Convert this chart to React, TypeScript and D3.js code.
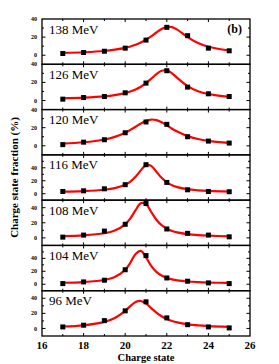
import React from 'react';
import * as d3 from 'd3';

// charge states measured
const charges = [17, 18, 19, 20, 21, 22, 23, 24, 25];
const energies = ['138 MeV', '126 MeV', '120 MeV', '116 MeV', '108 MeV', '104 MeV', '96 MeV'];

// measured fractions (%) per beam energy
const frac138 = [1.9, 3.0, 4.4, 7.8, 16.7, 30.8, 21.6, 7.8, 4.9];
const frac126 = [1.5, 3.3, 4.4, 8.5, 19.2, 32.9, 14.8, 7.4, 4.4];
const frac120 = [1.3, 4.0, 6.7, 14.4, 26.3, 23.7, 10.0, 5.2, 3.0];
const frac116 = [3.4, 4.4, 7.5, 13.9, 44.8, 17.4, 6.0, 3.4, 3.0];
const frac108 = [1.0, 3.7, 9.0, 18.0, 45.5, 11.8, 6.0, 3.7, 1.4];
const frac104 = [1.0, 3.6, 6.2, 22.4, 44.3, 9.7, 4.7, 2.1, 1.0];
const frac96 = [2.0, 4.3, 10.4, 23.3, 35.3, 14.0, 5.0, 2.0, 0.7];

// fitted curve
const fitGrid = [17, 18, 19, 19.5, 20, 20.25, 20.5, 20.75, 21, 21.25, 21.5, 21.75, 22, 22.25, 22.5, 23, 23.5, 24, 25];
const fit138 = [2.5, 3.3, 4.7, 6.1, 8.1, 9.6, 11.5, 14.0, 17.1, 20.8, 25.1, 29.0, 31.3, 31.0, 28.3, 20.0, 13.4, 9.3, 5.2];
const fit126 = [2.3, 3.1, 4.5, 5.9, 8.2, 9.9, 12.2, 15.2, 19.2, 24.0, 29.1, 32.8, 33.2, 30.0, 25.1, 15.9, 10.3, 7.2, 4.1];
const fit120 = [2.4, 3.9, 7.0, 9.9, 14.5, 17.6, 21.0, 24.6, 27.5, 29.0, 28.3, 25.9, 22.5, 18.9, 15.7, 10.7, 7.5, 5.5, 3.2];
const fit116 = [3.2, 4.0, 6.1, 8.6, 13.9, 18.8, 26.2, 36.0, 44.1, 43.0, 34.0, 24.5, 17.6, 13.1, 10.2, 6.9, 5.2, 4.2, 3.3];
const fit108 = [2.3, 3.3, 6.1, 9.7, 18.0, 25.9, 36.7, 45.9, 44.7, 34.4, 24.0, 16.8, 12.2, 9.2, 7.2, 4.9, 3.6, 2.9, 2.1];
const fit104 = [2.3, 3.4, 6.6, 11.1, 22.4, 33.4, 46.8, 51.6, 41.7, 28.5, 19.2, 13.4, 9.8, 7.5, 6.0, 4.2, 3.2, 2.6, 2.0];
const fit96 = [2.6, 4.2, 8.7, 13.8, 23.3, 29.6, 34.9, 36.4, 33.0, 27.0, 21.0, 16.1, 12.5, 9.9, 8.0, 5.5, 4.0, 3.1, 2.1];

// upper limit of each panel's y axis
const yTops = [40, 40, 40, 60, 50, 60, 50];
const yBottom = -10;
const yLabels = [0, 20, 40];
const xLabels = [16, 18, 20, 22, 24, 26];

const fractions = [frac138, frac126, frac120, frac116, frac108, frac104, frac96];
const fits = [fit138, fit126, fit120, fit116, fit108, fit104, fit96];

const panels = energies.map((label, i) => ({
  label,
  points: charges.map((c, j) => ({ x: c, y: fractions[i][j] })),
  fit: fitGrid.map((c, j) => ({ x: c, y: fits[i][j] })),
  yTop: yTops[i],
}));

const FONT = '"Liberation Serif", "Times New Roman", serif';

export default function App() {
  const width = 279;
  const height = 364;
  const margin = { top: 19, right: 29, bottom: 28, left: 42 };
  const innerW = width - margin.left - margin.right;
  const innerH = height - margin.top - margin.bottom;
  const panelH = innerH / panels.length;

  const x = d3.scaleLinear().domain([16, 26]).range([0, innerW]);
  const sq = 5;

  return (
    <svg
      width={width}
      height={height}
      style={{ position: 'absolute', left: 0, top: 0, background: '#fff' }}
      fontFamily={FONT}
    >
      <g transform={`translate(${margin.left},${margin.top})`}>
        {panels.map((p, i) => {
          const y = d3.scaleLinear().domain([yBottom, p.yTop]).range([panelH, 0]);
          const line = d3.line<{ x: number; y: number }>()
            .x(d => x(d.x))
            .y(d => y(d.y))
            .curve(d3.curveCatmullRom.alpha(0.5));
          const yTicks = d3.range(yBottom + 10, p.yTop, 10);
          return (
            <g key={p.label} transform={`translate(0,${i * panelH})`}>
              <rect x={0} y={0} width={innerW} height={panelH} fill="none" stroke="#000" strokeWidth={1.3} />
              {yTicks.map(t => {
                const len = t % 20 === 0 ? 3.5 : 2;
                return (
                  <g key={t}>
                    <line x1={0} x2={len} y1={y(t)} y2={y(t)} stroke="#000" strokeWidth={1} />
                    <line x1={innerW} x2={innerW - len} y1={y(t)} y2={y(t)} stroke="#000" strokeWidth={1} />
                  </g>
                );
              })}
              {yLabels.filter(t => t <= p.yTop).map(t => (
                <text key={t} x={-5} y={y(t)} dy="0.35em" textAnchor="end" fontSize={6} fontWeight="bold">
                  {t}
                </text>
              ))}
              {charges.map(c => {
                const len = c % 2 === 0 ? 3 : 2;
                return (
                  <g key={c}>
                    <line x1={x(c)} x2={x(c)} y1={0} y2={len} stroke="#000" strokeWidth={1} />
                    <line x1={x(c)} x2={x(c)} y1={panelH} y2={panelH - len} stroke="#000" strokeWidth={1} />
                  </g>
                );
              })}
              <path d={line(p.fit) || ''} fill="none" stroke="#ff0000" strokeWidth={2.2} />
              {p.points.map(d => (
                <rect key={d.x} x={x(d.x) - sq / 2} y={y(d.y) - sq / 2} width={sq} height={sq} fill="#000" />
              ))}
              <text x={7} y={14.5} fontSize={13}>{p.label}</text>
              {i === 0 && (
                <text x={innerW - 8} y={14} fontSize={12} fontWeight="bold" textAnchor="end">(b)</text>
              )}
            </g>
          );
        })}
        {xLabels.map(t => (
          <text key={t} x={x(t)} y={innerH + 12.5} textAnchor="middle" fontSize={11} fontWeight="bold">
            {t}
          </text>
        ))}
        <text x={innerW / 2} y={innerH + 24.5} textAnchor="middle" fontSize={10.5} fontWeight="bold">
          Charge state
        </text>
        <text
          transform={`translate(${-24},${innerH / 2}) rotate(-90)`}
          textAnchor="middle"
          fontSize={11}
          fontWeight="bold"
        >
          Charge state fraction (%)
        </text>
      </g>
    </svg>
  );
}
